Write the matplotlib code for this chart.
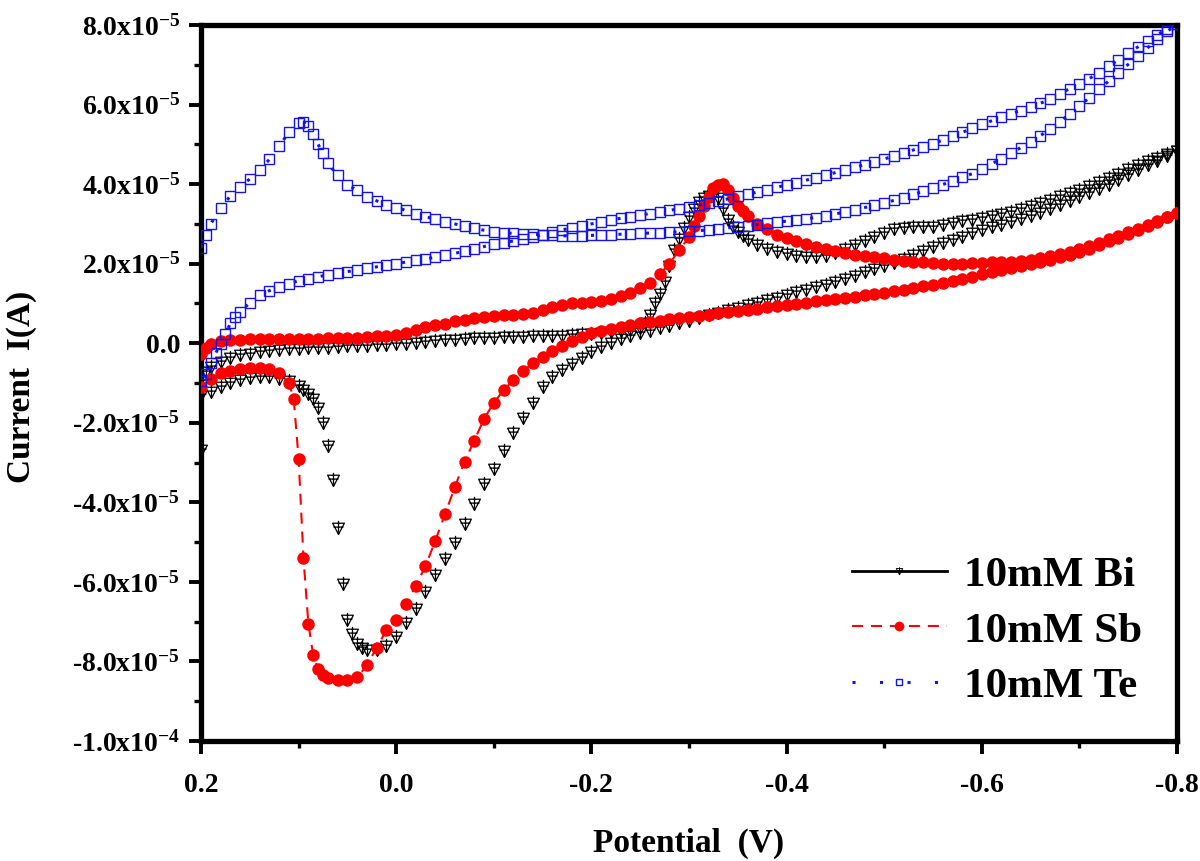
import matplotlib
matplotlib.use('Agg')
import matplotlib.pyplot as plt
from matplotlib.path import Path
from matplotlib.lines import Line2D
from matplotlib.ticker import FixedLocator, MultipleLocator
import numpy as np

plt.rcParams['font.family'] = ['Liberation Serif', 'DejaVu Serif']
plt.rcParams['font.weight'] = 'bold'
plt.rcParams['mathtext.fontset'] = 'custom'
plt.rcParams['mathtext.rm'] = 'Liberation Serif:bold'
plt.rcParams['mathtext.it'] = 'Liberation Serif:bold'
plt.rcParams['mathtext.bf'] = 'Liberation Serif:bold'

SCALE = 1e-5  # currents below are in units of 1e-5 A

# potential sweep grid (V), 0.20 -> -0.80
E_sweep = [0.20, 0.19, 0.18, 0.17, 0.16, 0.15, 0.14, 0.13, 0.12, 0.11,
           0.10, 0.09, 0.08, 0.07, 0.06, 0.05, 0.04, 0.03, 0.02, 0.01,
           0.00, -0.01, -0.02, -0.03, -0.04, -0.05, -0.06, -0.07, -0.08, -0.09,
           -0.10, -0.11, -0.12, -0.13, -0.14, -0.15, -0.16, -0.17, -0.18, -0.19,
           -0.20, -0.21, -0.22, -0.23, -0.24, -0.25, -0.26, -0.27, -0.28, -0.29,
           -0.30, -0.31, -0.32, -0.33, -0.34, -0.35, -0.36, -0.37, -0.38, -0.39,
           -0.40, -0.41, -0.42, -0.43, -0.44, -0.45, -0.46, -0.47, -0.48, -0.49,
           -0.50, -0.51, -0.52, -0.53, -0.54, -0.55, -0.56, -0.57, -0.58, -0.59,
           -0.60, -0.61, -0.62, -0.63, -0.64, -0.65, -0.66, -0.67, -0.68, -0.69,
           -0.70, -0.71, -0.72, -0.73, -0.74, -0.75, -0.76, -0.77, -0.78, -0.79,
           -0.80]

# ---------------- 10mM Bi ----------------
bi_fwd = [-2.69, -0.60, -0.47, -0.36, -0.30, -0.26, -0.23, -0.20, -0.17, -0.15,
          -0.14, -0.13, -0.12, -0.11, -0.09, -0.08, -0.07, -0.06, -0.05, -0.04,
          -0.03, -0.01, 0.01, 0.03, 0.05, 0.07, 0.09, 0.11, 0.12, 0.13,
          0.14, 0.15, 0.16, 0.16, 0.17, 0.17, 0.18, 0.19, 0.20, 0.22,
          0.24, 0.26, 0.28, 0.30, 0.33, 0.38, 0.72, 1.25, 1.95, 2.62,
          3.18, 3.55, 3.71, 3.66, 3.10, 2.80, 2.60, 2.47, 2.37, 2.29,
          2.24, 2.20, 2.18, 2.17, 2.20, 2.27, 2.36, 2.46, 2.56, 2.67,
          2.78, 2.86, 2.90, 2.91, 2.92, 2.93, 2.98, 3.03, 3.07, 3.10,
          3.14, 3.19, 3.25, 3.31, 3.38, 3.45, 3.53, 3.61, 3.69, 3.77,
          3.86, 3.96, 4.06, 4.16, 4.26, 4.37, 4.47, 4.57, 4.66, 4.75,
          4.84]
bi_fwd_xE = [0.198, 0.195, -0.255, -0.265, -0.275, -0.285, -0.295, -0.305,
             -0.315, -0.325, -0.335, -0.345, -0.355]
bi_fwd_xI = [-0.95, -0.72, 0.50, 1.00, 1.55, 2.35, 2.90, 3.38,
             3.65, 3.72, 3.38, 2.92, 2.70]
bi_rev = [-1.31, -1.22, -1.10, -1.01, -0.93, -0.88, -0.85, -0.86, -0.89, -0.95,
          -1.08, -1.27, -1.62, -2.58, -4.65, -6.95, -7.55, -7.72, -7.72, -7.62,
          -7.38, -7.04, -6.67, -6.25, -5.83, -5.42, -5.03, -4.55, -4.04, -3.55,
          -3.15, -2.72, -2.25, -1.88, -1.50, -1.10, -0.85, -0.68, -0.52, -0.38,
          -0.22, -0.10, 0.00, 0.10, 0.18, 0.25, 0.31, 0.38, 0.44, 0.51,
          0.57, 0.64, 0.70, 0.76, 0.83, 0.89, 0.95, 1.02, 1.08, 1.14,
          1.21, 1.28, 1.34, 1.41, 1.47, 1.55, 1.62, 1.70, 1.78, 1.86,
          1.94, 2.02, 2.12, 2.22, 2.31, 2.41, 2.51, 2.60, 2.68, 2.76,
          2.84, 2.91, 2.98, 3.05, 3.12, 3.20, 3.28, 3.37, 3.47, 3.57,
          3.67, 3.77, 3.88, 3.99, 4.10, 4.22, 4.35, 4.47, 4.58, 4.70,
          4.84]
bi_rev_xE = [0.095, 0.085, 0.075, 0.065, 0.055, 0.045, 0.035]
bi_rev_xI = [-1.17, -1.40, -2.00, -3.45, -6.05, -7.30, -7.66]

# ---------------- 10mM Sb ----------------
sb_fwd = [-0.26, -0.03, 0.05, 0.08, 0.09, 0.10, 0.10, 0.10, 0.10, 0.10,
          0.10, 0.11, 0.11, 0.12, 0.12, 0.12, 0.13, 0.15, 0.17, 0.19,
          0.20, 0.26, 0.33, 0.40, 0.45, 0.49, 0.55, 0.59, 0.63, 0.66,
          0.68, 0.70, 0.72, 0.74, 0.77, 0.84, 0.92, 0.97, 1.00, 1.02,
          1.03, 1.07, 1.12, 1.18, 1.26, 1.38, 1.52, 1.74, 2.00, 2.34,
          2.67, 3.20, 3.68, 3.99, 3.86, 3.45, 3.20, 3.00, 2.86, 2.73,
          2.64, 2.56, 2.49, 2.42, 2.37, 2.32, 2.27, 2.23, 2.19, 2.16,
          2.13, 2.10, 2.07, 2.05, 2.03, 2.01, 2.00, 2.00, 2.00, 2.01,
          2.02, 2.03, 2.04, 2.05, 2.07, 2.10, 2.14, 2.19, 2.24, 2.30,
          2.37, 2.45, 2.53, 2.61, 2.70, 2.79, 2.88, 2.98, 3.08, 3.18,
          3.28]
sb_fwd_xE = [0.195, -0.305, -0.315, -0.325, -0.335, -0.345, -0.355]
sb_fwd_xI = [-0.12, 2.95, 3.45, 3.90, 4.00, 3.65, 3.32]
sb_rev = [-1.10, -0.90, -0.76, -0.69, -0.64, -0.63, -0.63, -0.66, -0.75, -1.00,
          -2.90, -7.05, -8.20, -8.42, -8.47, -8.46, -8.40, -8.10, -7.65, -7.22,
          -6.95, -6.55, -6.10, -5.60, -4.97, -4.30, -3.62, -2.98, -2.45, -1.90,
          -1.50, -1.18, -0.92, -0.70, -0.50, -0.35, -0.20, -0.06, 0.05, 0.15,
          0.25, 0.30, 0.36, 0.41, 0.46, 0.50, 0.54, 0.57, 0.60, 0.63,
          0.66, 0.69, 0.72, 0.75, 0.78, 0.81, 0.84, 0.87, 0.90, 0.93,
          0.96, 0.99, 1.02, 1.05, 1.08, 1.11, 1.14, 1.17, 1.20, 1.24,
          1.27, 1.31, 1.35, 1.39, 1.43, 1.47, 1.51, 1.56, 1.61, 1.67,
          1.73, 1.79, 1.84, 1.89, 1.94, 1.99, 2.04, 2.10, 2.16, 2.23,
          2.30, 2.38, 2.47, 2.56, 2.65, 2.75, 2.85, 2.95, 3.06, 3.17,
          3.28]
sb_rev_xE = [0.105, 0.095, 0.085, 0.075]
sb_rev_xI = [-1.40, -5.40, -7.85, -8.35]

# ---------------- 10mM Te ----------------
te_fwd = [2.40, 3.00, 3.40, 3.70, 3.93, 4.13, 4.35, 4.62, 4.95, 5.30,
          5.54, 5.45, 5.00, 4.52, 4.22, 3.99, 3.84, 3.68, 3.58, 3.48,
          3.41, 3.34, 3.26, 3.18, 3.12, 3.06, 3.00, 2.94, 2.89, 2.84,
          2.80, 2.78, 2.76, 2.75, 2.74, 2.73, 2.72, 2.70, 2.70, 2.70,
          2.71, 2.72, 2.73, 2.74, 2.75, 2.76, 2.77, 2.78, 2.79, 2.80,
          2.82, 2.83, 2.85, 2.87, 2.90, 2.92, 2.95, 2.98, 3.01, 3.04,
          3.07, 3.10, 3.13, 3.16, 3.20, 3.25, 3.30, 3.35, 3.41, 3.47,
          3.53, 3.59, 3.66, 3.74, 3.82, 3.90, 3.99, 4.08, 4.17, 4.26,
          4.38, 4.51, 4.64, 4.78, 4.92, 5.07, 5.22, 5.38, 5.57, 5.76,
          5.96, 6.17, 6.38, 6.59, 6.80, 7.01, 7.22, 7.43, 7.64, 7.84,
          8.02]
te_fwd_xE = [0.195, 0.095, 0.085, 0.075]
te_fwd_xI = [2.71, 5.56, 5.27, 4.77]
te_rev = [-0.95, -0.50, -0.02, 0.50, 0.78, 1.02, 1.20, 1.32, 1.42, 1.50,
          1.57, 1.62, 1.67, 1.72, 1.76, 1.80, 1.84, 1.88, 1.92, 1.96,
          2.00, 2.04, 2.08, 2.12, 2.16, 2.21, 2.26, 2.31, 2.37, 2.43,
          2.49, 2.53, 2.57, 2.61, 2.67, 2.73, 2.79, 2.85, 2.90, 2.95,
          3.00, 3.05, 3.10, 3.14, 3.18, 3.22, 3.26, 3.30, 3.34, 3.38,
          3.42, 3.47, 3.52, 3.58, 3.63, 3.69, 3.74, 3.80, 3.86, 3.92,
          3.98, 4.04, 4.10, 4.16, 4.22, 4.29, 4.35, 4.42, 4.49, 4.56,
          4.63, 4.71, 4.78, 4.86, 4.93, 5.01, 5.11, 5.21, 5.30, 5.40,
          5.50, 5.59, 5.68, 5.77, 5.85, 5.93, 6.03, 6.14, 6.27, 6.40,
          6.52, 6.65, 6.80, 6.96, 7.13, 7.29, 7.45, 7.61, 7.76, 7.90,
          8.02]
te_rev_xE = [0.195, 0.185, 0.175, 0.165]
te_rev_xI = [-0.78, -0.25, 0.22, 0.66]

x_ticks = [0.2, 0.0, -0.2, -0.4, -0.6, -0.8]
x_labels = ['0.2', '0.0', '-0.2', '-0.4', '-0.6', '-0.8']
y_ticks = [8e-5, 6e-5, 4e-5, 2e-5, 0.0, -2e-5, -4e-5, -6e-5, -8e-5, -1e-4]
y_labels = [r'8.0x10$^{\mathbf{-5}}$', r'6.0x10$^{\mathbf{-5}}$', r'4.0x10$^{\mathbf{-5}}$',
            r'2.0x10$^{\mathbf{-5}}$', '0.0', r'-2.0x10$^{\mathbf{-5}}$',
            r'-4.0x10$^{\mathbf{-5}}$', r'-6.0x10$^{\mathbf{-5}}$',
            r'-8.0x10$^{\mathbf{-5}}$', r'-1.0x10$^{\mathbf{-4}}$']
labels = ['10mM Bi', '10mM Sb', '10mM Te']


def branch(I_grid, xE, xI, descending):
    pts = list(zip(E_sweep, I_grid)) + list(zip(xE, xI))
    pts.sort(key=lambda p: p[0], reverse=descending)
    return pts


def cv_loop(fwd, fxE, fxI, rev, rxE, rxI):
    pts = branch(fwd, fxE, fxI, True) + branch(rev, rxE, rxI, False)
    E = np.array([p[0] for p in pts])
    I = np.array([p[1] for p in pts]) * SCALE
    return E, I


bi_E, bi_I = cv_loop(bi_fwd, bi_fwd_xE, bi_fwd_xI, bi_rev, bi_rev_xE, bi_rev_xI)
sb_E, sb_I = cv_loop(sb_fwd, sb_fwd_xE, sb_fwd_xI, sb_rev, sb_rev_xE, sb_rev_xI)
te_E, te_I = cv_loop(te_fwd, te_fwd_xE, te_fwd_xI, te_rev, te_rev_xE, te_rev_xI)

# custom marker: down triangle with a cross
tri_verts = [(-0.5, 0.45), (0.5, 0.45), (0.0, -0.5), (-0.5, 0.45),
             (0.0, 0.65), (0.0, -0.5),
             (-0.42, 0.12), (0.42, 0.12)]
tri_codes = [Path.MOVETO, Path.LINETO, Path.LINETO, Path.CLOSEPOLY,
             Path.MOVETO, Path.LINETO,
             Path.MOVETO, Path.LINETO]
bi_marker = Path(tri_verts, tri_codes)

BLUE = '#1414e6'

fig = plt.figure(figsize=(12, 8.61), dpi=100)
ax = fig.add_axes([201 / 1200, 1 - 741 / 861, 976 / 1200, 716 / 861])

ax.plot(bi_E, bi_I, ls='none', marker=bi_marker, ms=11, mfc='none',
        mec='black', mew=0.9, zorder=3)
ax.plot(sb_E, sb_I, color='red', lw=1.5, ls=(0, (5.3, 3.8)), marker='o', ms=9,
        mfc='red', mec='red', mew=0, zorder=4)
ax.plot(te_E, te_I, color=BLUE, lw=2.2, ls=(0, (1, 8)), marker='s', ms=6.8,
        mfc='none', mec=BLUE, mew=1.0, zorder=5)

ax.set_xlim(0.2, -0.8)
ax.set_ylim(-1e-4, 8e-5)

ax.xaxis.set_major_locator(FixedLocator(x_ticks))
ax.set_xticklabels(x_labels)
ax.xaxis.set_minor_locator(MultipleLocator(0.1))
ax.yaxis.set_major_locator(FixedLocator(y_ticks))
ax.set_yticklabels(y_labels)
ax.yaxis.set_minor_locator(MultipleLocator(1e-5))

for s in ax.spines.values():
    s.set_linewidth(3.8)

ax.tick_params(axis='both', which='major', direction='out', length=9, width=2.8,
               labelsize=20, top=False, right=False)
ax.tick_params(axis='both', which='minor', direction='out', length=5, width=2.4,
               top=False, right=False)
ax.tick_params(axis='x', which='major', pad=14)
ax.tick_params(axis='y', which='major', pad=6)
for t in ax.get_xticklabels() + ax.get_yticklabels():
    t.set_fontweight('bold')

ax.set_xlabel('Potential  (V)', fontsize=24, fontweight='bold', va='center')
ax.xaxis.set_label_coords(0.5, (741 - 843) / 716)
ax.set_ylabel('Current  I(A)', fontsize=24, fontweight='bold', va='center')
ax.yaxis.set_label_coords((22 - 201) / 976, 0.495)

handles = [
    Line2D([], [], color='black', lw=2.0, ls='-', marker=bi_marker, ms=6,
           mfc='none', mec='black', mew=0.7),
    Line2D([], [], color='red', lw=1.5, ls=(0, (5.3, 3.8)), marker='o', ms=7,
           mfc='red', mec='red', mew=0),
    Line2D([], [], color=BLUE, lw=2.2, ls=(0, (1, 8)), marker='s', ms=5,
           mfc='none', mec=BLUE, mew=1.0),
]
leg = ax.legend(handles, labels, loc='center left',
                bbox_to_anchor=(852 / 1200, 1 - 631 / 861),
                bbox_transform=fig.transFigure, frameon=False, numpoints=1,
                borderpad=0, borderaxespad=0, handlelength=2.2,
                handletextpad=0.4, labelspacing=0.38,
                prop={'family': 'Liberation Serif', 'weight': 'bold', 'size': 31})

fig.savefig('out.png', dpi=100)
